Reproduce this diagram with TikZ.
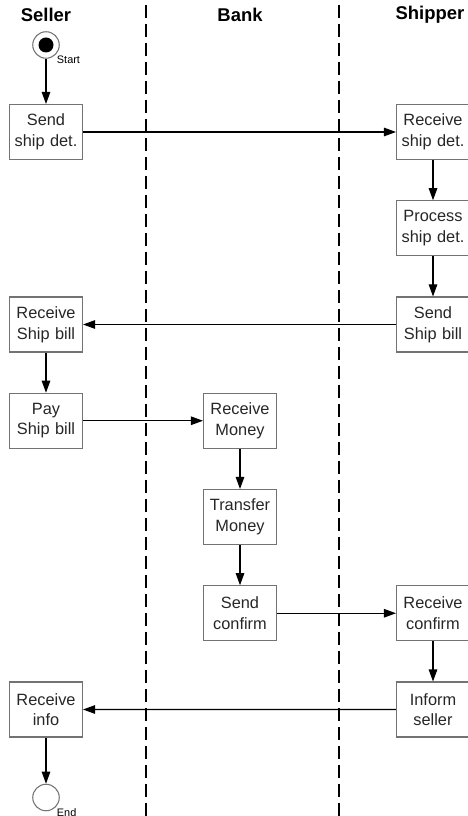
\documentclass[tikz,border=0pt]{standalone}
\usepackage{fontspec}
\setmainfont{Liberation Sans}
\usetikzlibrary{arrows.meta, shapes, positioning}

\tikzset{
  act/.style={draw=black!55, line width=0.6pt, text=black!85, minimum width=1.46cm, minimum height=1.1cm, text width=1.42cm, inner sep=0pt, text centered, font=\fontsize{9.3}{11.7}\selectfont},
  lane/.style={font=\bfseries\fontsize{10.5}{12}\selectfont},
  flow/.style={-{Triangle[length=0.24cm,width=0.17cm]}, line width=0.6pt},
  swim/.style={line width=1.1pt, dash pattern=on 0.26cm off 0.12cm},
  tag/.style={font=\fontsize{6.2}{7}\selectfont, inner sep=0.5pt}
}

\begin{document}
\begin{tikzpicture}[node distance=1.925cm]
  \useasboundingbox (0,0) rectangle (9.34,-16.32);

    % lanes %
      \node[lane] (seller) at (0.92,-0.3) {Seller};
      \node[lane, right of = seller, node distance=3.88cm] (bank) {Bank};
      \node[lane, right of = bank, node distance=3.8cm] (shipper) {Shipper};
      \coordinate (sbtop) at (2.92,-0.1);
      \coordinate (sbbot) at (2.92,-16.32);
      \coordinate (bstop) at (6.78,-0.1);
      \coordinate (bsbot) at (6.78,-16.32);
      \draw[swim] (sbtop) -- (sbbot);
      \draw[swim] (bstop) -- (bsbot);

    % nodes %
      \node[circle, draw=black!55, line width=0.6pt, minimum size=0.53cm, inner sep=0pt, label={[tag]south east:Start}] (start) at (0.92,-0.9) {};
      \node[circle, fill=black, minimum size=0.3cm, inner sep=0pt] (startdot) at (start) {};
      \node[act, below of = start, node distance=1.74cm] (senddet) {Send\\ship det.};
      \node[act, right of = senddet, node distance=7.74cm] (recdet) {Receive\\ship det.};
      \node[act, below of = recdet] (procdet) {Process\\ship det.};
      \node[act, below of = procdet] (sendbill) {Send\\Ship bill};
      \node[act, below of = senddet, node distance=3.85cm] (recbill) {Receive\\Ship bill};
      \node[act, below of = recbill] (paybill) {Pay\\Ship bill};
      \node[act, right of = paybill, node distance=3.88cm] (recmoney) {Receive\\Money};
      \node[act, below of = recmoney] (transmoney) {Transfer\\Money};
      \node[act, below of = transmoney] (sendconf) {Send\\confirm};
      \node[act, right of = sendconf, node distance=3.86cm] (recconf) {Receive\\confirm};
      \node[act, below of = recconf] (inform) {Inform\\seller};
      \node[act, below of = paybill, node distance=5.775cm] (recinfo) {Receive\\info};
      \node[circle, draw=black!55, line width=0.6pt, minimum size=0.53cm, inner sep=0pt, below of = recinfo, node distance=1.76cm, label={[tag]south east:End}] (end) {};

    % edges %
      \draw[flow] (start) -- (senddet);
      \draw[flow] (senddet) -- (recdet);
      \draw[flow] (recdet) -- (procdet);
      \draw[flow] (procdet) -- (sendbill);
      \draw[flow] (sendbill) -- (recbill);
      \draw[flow] (recbill) -- (paybill);
      \draw[flow] (paybill) -- (recmoney);
      \draw[flow] (recmoney) -- (transmoney);
      \draw[flow] (transmoney) -- (sendconf);
      \draw[flow] (sendconf) -- (recconf);
      \draw[flow] (recconf) -- (inform);
      \draw[flow] (inform) -- (recinfo);
      \draw[flow] (recinfo) -- (end);
\end{tikzpicture}
\end{document}
